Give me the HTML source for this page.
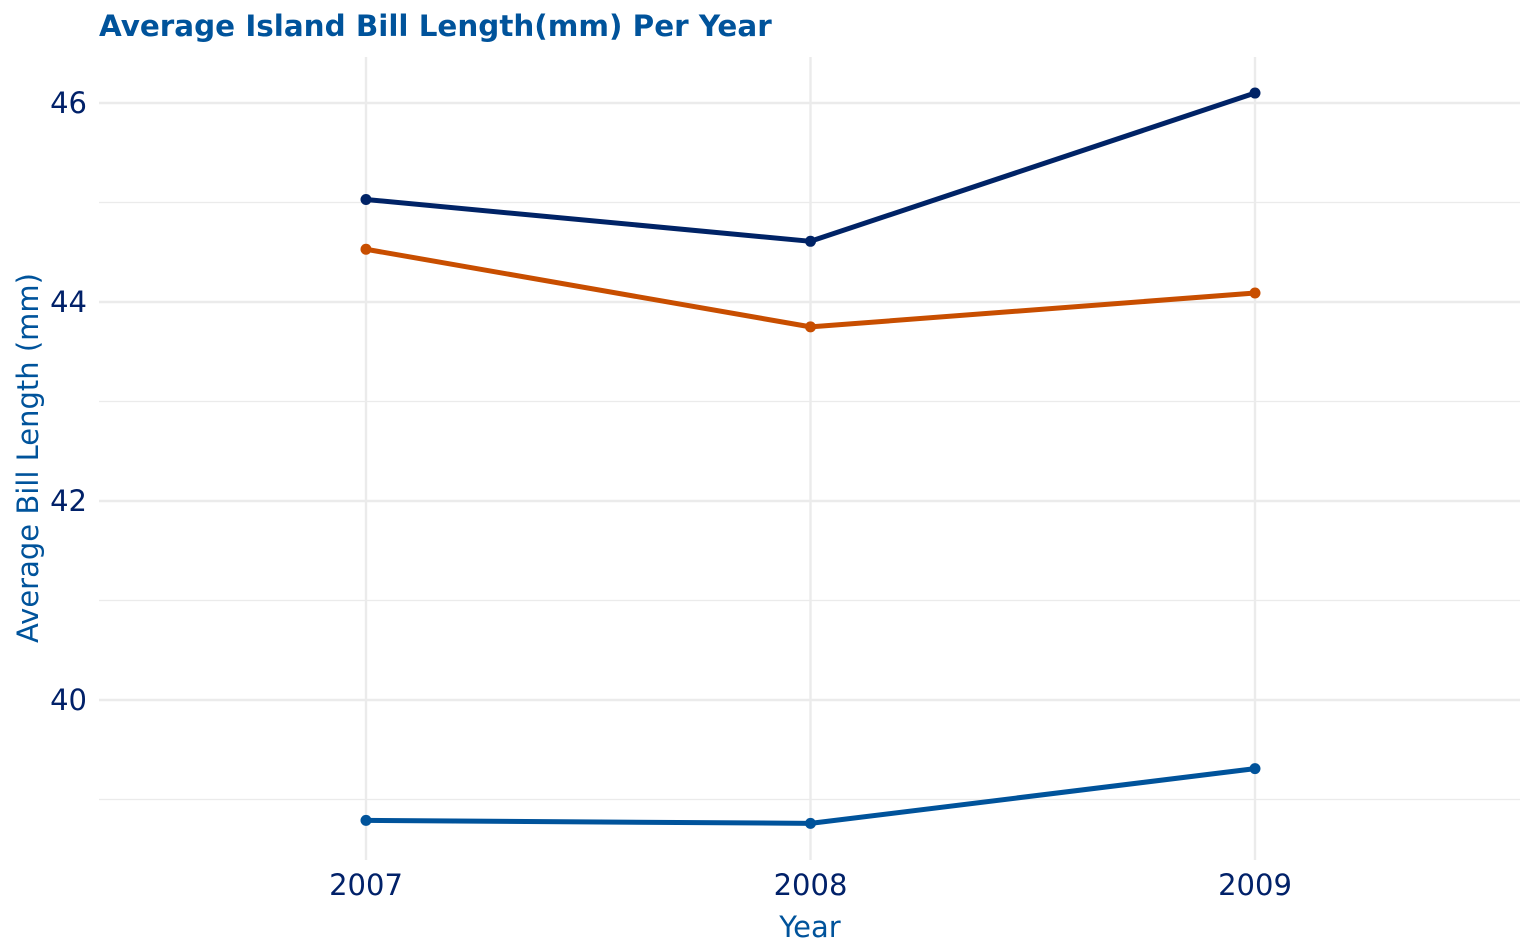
<!DOCTYPE html>
<html><head><meta charset="utf-8"><style>
html,body{margin:0;padding:0;background:#fff;}
svg{display:block;font-family:"DejaVu Sans","Liberation Sans",sans-serif;}
</style></head><body>
<svg id="chart" width="1536" height="949" viewBox="0 0 1536 949">
<text x="99" y="36" font-size="29.4" font-weight="bold" fill="#00539B">Average Island Bill Length(mm) Per Year</text>
<g id="grid"></g>
<g id="yticks"></g>
<g id="xticks"></g>
<g id="series"></g>
<text x="810" y="937" font-size="29" fill="#00539B" text-anchor="middle">Year</text>
<text transform="translate(38,458) rotate(-90)" font-size="29" fill="#00539B" text-anchor="middle">Average Bill Length (mm)</text>
</svg>
<script>
const years = [2007, 2008, 2009];
const seriesNames = ["island-a", "island-b", "island-c"];
const seriesA = [45.03, 44.61, 46.10];
const seriesB = [44.53, 43.75, 44.09];
const seriesC = [38.79, 38.76, 39.31];
const yTicks = [40, 42, 44, 46];
const yMinor = [39, 41, 43, 45];
const colors = ["#002366", "#C84E00", "#00539B"];

const NS = "http://www.w3.org/2000/svg";
function xs(v){ return 366 + (v - 2007) * 444.5; }
function ys(v){ return 700 - (v - 40) * 99.5; }
function mk(tag, attrs, parent){
  const e = document.createElementNS(NS, tag);
  for (const k in attrs) e.setAttribute(k, attrs[k]);
  parent.appendChild(e);
  return e;
}
const grid = document.getElementById("grid");
yMinor.forEach(v=>{
  const l = mk("line",{x1:99,x2:1520,y1:ys(v),y2:ys(v),stroke:"#ebebeb","stroke-width":1.2},grid);
  
  
});
yTicks.forEach(v=>{
  const l = mk("line",{x1:99,x2:1520,y1:ys(v),y2:ys(v),stroke:"#ebebeb","stroke-width":2.4},grid);
  
  
});
years.forEach(v=>{
  const l = mk("line",{x1:xs(v),x2:xs(v),y1:57,y2:860,stroke:"#ebebeb","stroke-width":2.4},grid);
  
  
});
const yt = document.getElementById("yticks");
yTicks.forEach(v=>{
  const t = mk("text",{x:87,y:ys(v)+10,"font-size":29,fill:"#012169","text-anchor":"end"},yt);
  t.textContent = v;
  
  
});
const xt = document.getElementById("xticks");
years.forEach(v=>{
  const t = mk("text",{x:xs(v),y:895,"font-size":29,fill:"#012169","text-anchor":"middle"},xt);
  t.textContent = v;
  
  
});
const sg = document.getElementById("series");
[seriesA, seriesB, seriesC].forEach((s,i)=>{
  const pts = s.map((v,j)=>xs(years[j])+","+ys(v)).join(" ");
  const pl = mk("polyline",{points:pts,fill:"none",stroke:colors[i],"stroke-width":5,"stroke-linejoin":"round"},sg);
  
  
  s.forEach((v,j)=>{
    const c = mk("circle",{cx:xs(years[j]),cy:ys(v),r:5.5,fill:colors[i]},sg);
    
    
  });
});
</script>
</body></html>
